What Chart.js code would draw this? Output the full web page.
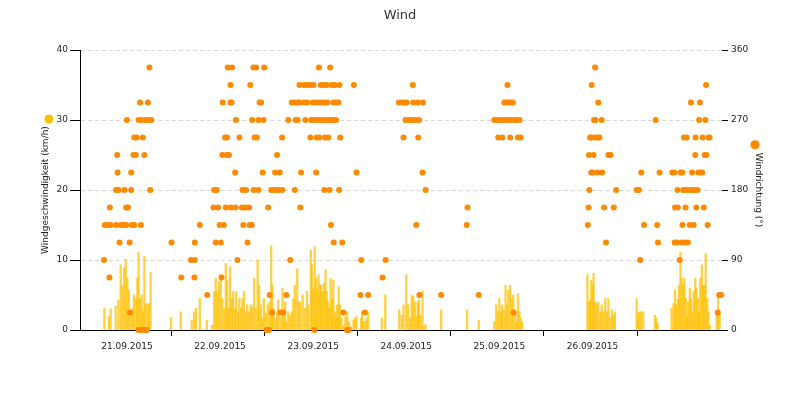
<!DOCTYPE html>
<html>
<head>
<meta charset="utf-8">
<style>html,body{margin:0;padding:0;background:#fff;}canvas{display:block;}</style>
<script src="https://cdn.jsdelivr.net/npm/chart.js@4.4.1/dist/chart.umd.min.js"></script>
</head>
<body>
<canvas id="c" width="800" height="400"></canvas>
<script>
// ---- data (hours since 21.09.2015 00:00) ----
const dayLabels = ['21.09.2015','22.09.2015','23.09.2015','24.09.2015','25.09.2015','26.09.2015'];
const xTickHours = [12,24,36,48,60,72,84,96,108,120,132,144];

const speedHours = [6.7,7.9,8.3,9.6,10.3,10.9,11.3,11.8,12.2,12.6,13.0,13.5,13.9,14.3,14.8,15.2,15.5,15.9,16.3,16.6,17.0,17.3,17.8,18.2,18.6,
23.9,26.4,29.2,29.8,30.3,31.3,33.1,34.4,35.0,35.4,35.8,36.2,36.7,37.1,37.6,38.0,38.4,38.7,39.1,39.5,39.9,40.4,40.7,41.1,41.5,41.9,42.3,42.7,43.1,43.5,44.0,44.4,44.8,45.3,45.7,46.2,46.6,47.0,47.4,47.8,
48.3,48.8,49.3,49.7,50.0,50.3,50.8,51.2,51.5,52.1,52.6,52.9,53.3,53.6,54.1,54.6,55.0,55.4,55.8,56.4,56.8,57.2,57.8,58.4,58.9,59.3,59.9,60.2,60.6,60.9,61.3,61.6,61.9,62.3,62.6,63.0,63.3,63.7,64.0,64.3,64.7,65.0,65.4,65.7,66.1,66.4,66.7,67.1,67.4,67.8,68.3,68.8,69.3,69.7,70.2,70.9,71.3,71.7,
72.9,73.1,73.4,73.9,74.3,74.7,78.2,79.1,82.7,83.3,83.8,84.5,85.0,85.5,85.9,86.3,86.8,87.2,87.5,87.8,88.2,88.7,89.1,89.5,93.5,100.2,103.2,
107.2,107.7,108.1,108.5,108.9,109.2,109.6,110.1,110.4,110.8,111.3,111.7,112.1,112.6,113.0,113.3,113.7,114.0,114.4,
131.2,131.6,131.9,132.2,132.6,132.8,133.2,133.6,134.0,134.5,134.9,135.3,135.8,136.2,136.6,137.0,137.5,137.9,138.3,
143.9,144.2,144.6,145.0,145.6,148.6,149.0,149.3,152.9,153.4,153.8,154.1,154.5,154.8,155.2,155.5,155.9,156.2,156.6,156.9,157.2,157.6,157.9,158.3,158.6,159.0,159.3,159.7,160.0,160.3,160.7,161.0,161.4,161.7,162.1,162.4,162.8,164.5,164.9,165.3];
const speedKmh = [3.1,1.9,3.0,3.4,4.3,9.3,6.4,8.9,10.1,7.4,5.7,2.6,3.1,5.0,4.5,7.4,11.1,4.5,5.0,2.6,10.5,3.8,3.6,3.8,8.2,
1.8,2.6,1.4,2.6,3.1,4.5,1.4,0.7,5.5,7.4,5.5,6.9,7.9,4.5,3.1,9.5,7.1,3.1,9.0,4.5,5.5,3.1,5.5,2.6,4.5,3.1,4.5,5.5,2.6,3.6,2.6,3.6,3.3,7.4,3.1,10.0,6.4,3.6,1.7,4.5,
2.4,3.6,4.0,12.0,6.4,3.1,1.7,2.6,4.3,1.9,6.0,2.6,4.0,1.2,2.6,2.1,2.6,4.5,6.4,8.7,4.0,4.0,5.0,3.1,5.5,3.6,11.4,9.3,6.0,11.9,7.4,5.7,7.9,6.4,6.4,5.5,6.7,8.6,5.5,4.0,3.1,7.4,4.5,7.1,2.6,1.9,3.6,6.2,3.6,1.7,0.7,1.9,2.6,1.2,0.5,1.4,1.7,1.9,
1.7,2.6,1.2,1.2,1.7,2.6,1.7,5.0,2.9,2.1,3.6,7.9,3.6,1.7,5.0,4.8,4.0,1.9,4.0,4.3,2.1,5.6,0.5,0.8,2.9,2.9,1.4,
1.2,3.6,2.6,4.5,2.6,3.6,2.9,6.4,3.6,5.7,6.4,4.5,5.0,2.6,1.2,5.2,2.6,1.7,1.2,
7.9,4.0,4.3,7.1,6.4,8.1,4.0,3.8,4.0,2.6,3.6,2.6,4.5,2.6,4.5,1.7,2.9,2.1,2.6,
4.5,2.4,2.6,2.6,2.6,2.1,1.7,1.0,3.1,3.8,5.7,3.6,4.3,6.4,11.1,7.4,6.4,7.4,4.5,1.7,4.0,6.0,4.5,2.6,5.5,7.4,6.0,4.5,2.6,7.4,9.3,6.4,6.4,10.9,4.5,2.6,0.7,2.6,4.8,2.6];

const dirHours = [6.6,6.8,7.5,8.0,8.1,8.3,9.7,9.7,10.0,10.1,10.4,10.6,10.9,11.6,11.9,12.3,12.3,12.5,12.8,13.2,13.3,13.6,13.6,13.7,14.2,14.4,14.4,14.8,15.0,15.5,15.5,15.9,16.1,16.3,16.3,16.6,17.0,17.0,17.2,17.6,17.9,18.0,18.3,18.5,18.8,24.0,26.5,29.0,29.9,30.0,30.0,
31.3,33.2,34.8,35.0,35.4,35.7,36.0,36.4,36.7,36.9,37.1,37.2,37.5,37.8,38.0,38.2,38.3,38.5,38.8,39.2,39.2,39.3,39.5,39.6,40.4,40.5,40.6,41.0,41.5,42.1,42.3,42.5,43.0,43.2,43.6,44.0,44.1,44.3,44.7,44.8,45.1,45.2,45.4,45.8,46.0,46.4,46.4,46.7,47.1,47.5,47.7,47.9,48.5,48.9,49.1,49.3,49.7,49.9,50.3,50.7,51.0,51.2,51.7,51.9,52.1,52.5,52.6,52.8,53.6,54.1,54.6,55.0,55.7,55.8,56.0,56.4,56.5,57.0,57.0,57.2,57.4,
58.2,58.2,58.5,58.9,58.9,59.7,59.8,60.0,60.4,60.6,60.7,60.8,61.1,61.3,61.4,61.4,61.9,62.0,62.1,62.1,62.5,62.7,62.9,63.3,63.4,63.6,63.6,63.7,64.0,64.2,64.4,64.4,64.7,64.9,65.1,65.1,65.3,65.7,65.7,65.8,66.1,66.4,66.4,67.0,67.2,67.3,67.5,68.0,68.3,69.2,69.6,71.0,71.7,72.7,72.9,73.8,74.7,78.4,79.2,82.6,83.3,83.8,84.0,84.3,84.6,
85.1,85.7,86.2,86.3,86.4,87.0,87.1,87.5,87.6,87.8,87.9,88.7,88.8,89.5,93.5,100.1,100.3,103.2,107.2,108.0,108.2,108.7,109.3,109.4,109.8,110.2,110.5,110.6,111.0,111.0,111.3,111.5,111.5,
112.0,112.2,112.4,113.0,113.3,113.7,114.0,131.3,131.5,131.6,131.7,131.9,132.2,132.3,132.3,132.6,132.8,132.9,133.2,133.3,133.4,133.8,133.8,134.0,134.3,134.9,135.0,135.5,136.0,136.6,137.2,138.0,138.6,
143.9,144.5,144.8,145.1,145.8,148.8,149.2,149.4,149.8,153.1,153.6,153.7,153.8,154.3,154.4,154.5,155.0,155.2,155.5,155.7,155.7,155.9,156.1,156.3,156.5,156.6,156.8,157.1,157.3,157.6,157.9,158.0,158.2,158.6,158.7,159.0,159.1,159.3,159.6,159.8,160.0,160.2,160.3,160.8,160.9,161.2,161.4,161.6,161.8,161.9,162.2,162.4,162.7,164.8,165.2,165.7];
const dirDegrees = [90,135,135,67.5,157.5,135,180,135,225,202.5,180,112.5,135,135,180,157.5,135,270,157.5,112.5,22.5,202.5,180,135,225,247.5,135,225,247.5,270,0,292.5,135,270,0,247.5,225,0,270,0,292.5,270,337.5,180,270,112.5,67.5,90,67.5,112.5,90,
135,45,157.5,180,112.5,180,157.5,135,112.5,67.5,225,292.5,135,247.5,157.5,225,247.5,337.5,225,315,292.5,157.5,292.5,337.5,202.5,157.5,270,90,247.5,157.5,180,135,157.5,180,112.5,157.5,135,315,135,270,337.5,180,247.5,337.5,247.5,270,180,292.5,292.5,202.5,270,337.5,0,157.5,0,45,180,22.5,180,202.5,180,225,180,202.5,22.5,247.5,180,22.5,45,270,90,292.5,292.5,180,270,292.5,270,315,292.5,157.5,202.5,
315,292.5,270,315,292.5,315,247.5,270,292.5,315,270,0,292.5,202.5,270,247.5,292.5,337.5,270,247.5,315,292.5,270,315,180,292.5,247.5,270,315,292.5,270,247.5,180,337.5,270,135,315,292.5,270,112.5,315,292.5,270,292.5,180,315,247.5,112.5,22.5,0,0,315,202.5,45,90,22.5,45,67.5,90,292.5,292.5,247.5,292.5,270,292.5,
270,270,315,292.5,270,270,135,292.5,247.5,270,45,202.5,292.5,180,45,135,157.5,45,270,270,247.5,270,247.5,270,292.5,270,292.5,315,292.5,270,247.5,292.5,270,
292.5,22.5,270,270,247.5,270,247.5,135,157.5,225,180,247.5,202.5,315,247.5,202.5,225,270,337.5,270,247.5,247.5,202.5,292.5,247.5,270,202.5,157.5,112.5,225,225,157.5,180,
180,180,90,202.5,135,270,135,112.5,202.5,202.5,202.5,112.5,157.5,112.5,180,157.5,90,202.5,112.5,202.5,135,180,247.5,112.5,157.5,180,247.5,112.5,180,135,292.5,180,202.5,135,180,225,247.5,157.5,180,202.5,270,292.5,202.5,202.5,247.5,157.5,225,270,315,225,135,247.5,247.5,22.5,45,45];

const speedColor = '#FFC400';
const dirColor = '#FF8A00';

const axisMarkers = {
  id: 'axisMarkers',
  afterDraw(chart) {
    const ctx = chart.ctx;
    const yL = chart.scales.y, yR = chart.scales.y2;
    const cy = (chart.chartArea.top + chart.chartArea.bottom) / 2;
    ctx.save();
    ctx.font = '9px "DejaVu Sans"';
    const wL = ctx.measureText(yL.options.title.text).width;
    const wR = ctx.measureText(yR.options.title.text).width;
    ctx.fillStyle = speedColor;
    ctx.beginPath(); ctx.arc(yL.left + 49, cy - wL / 2 - 7, 4.6, 0, Math.PI * 2); ctx.fill();
    ctx.fillStyle = dirColor;
    ctx.beginPath(); ctx.arc(yR.right - 45, cy - wR / 2 - 8, 4.6, 0, Math.PI * 2); ctx.fill();
    ctx.restore();
  }
};

Chart.defaults.font.family = '"DejaVu Sans", sans-serif';
Chart.defaults.font.size = 9;
Chart.defaults.color = '#222';

new Chart(document.getElementById('c'), {
  type: 'scatter',
  data: {
    datasets: [
      {
        type: 'scatter',
        label: 'Windrichtung',
        data: dirHours.map((h, i) => ({x: h, y: dirDegrees[i]})),
        yAxisID: 'y2',
        pointRadius: 3,
        pointBackgroundColor: dirColor,
        pointBorderWidth: 0,
        clip: false,
        order: 1
      },
      {
        type: 'bar',
        label: 'Windgeschwindigkeit',
        data: speedHours.map((h, i) => ({x: h, y: speedKmh[i]})),
        yAxisID: 'y',
        backgroundColor: 'rgba(255,192,0,0.75)',
        borderWidth: 0,
        barThickness: 1.6,
        order: 2
      }
    ]
  },
  options: {
    responsive: false,
    animation: false,
    layout: {padding: 0},
    plugins: {
      legend: {display: false},
      tooltip: {enabled: false},
      title: {
        display: true, text: 'Wind', color: '#333',
        font: {size: 13, weight: 'normal'},
        padding: {top: 8, bottom: 26.4}
      }
    },
    scales: {
      x: {
        type: 'linear', min: 0.41, max: 165.9, offset: false,
        afterFit: s => { s.height = 70; },
        afterBuildTicks: s => { s.ticks = xTickHours.map(v => ({value: v})); },
        ticks: {
          autoSkip: false, maxRotation: 0, padding: 5, labelOffset: 2,
          callback: v => { const i = (v - 12) / 24; return Number.isInteger(i) ? dayLabels[i] : ''; }
        },
        grid: {
          drawOnChartArea: false, offset: false, tickLength: 6,
          tickColor: c => (c.tick && c.tick.value % 24 === 0) ? '#000' : 'rgba(0,0,0,0)'
        },
        border: {display: true, color: '#000', width: 1}
      },
      y: {
        position: 'left', min: 0, max: 40,
        afterFit: s => { s.width = 80; },
        ticks: {stepSize: 10, padding: 2},
        grid: {color: '#d8d8d8', tickColor: '#000', tickLength: 10},
        border: {display: true, color: '#000', width: 1, dash: [4, 3]},
        title: {display: true, text: 'Windgeschwindigkeit (km/h)', color: '#222', font: {size: 9}, padding: {top: 40.6, bottom: 0}}
      },
      y2: {
        position: 'right', min: 0, max: 360,
        afterFit: s => { s.width = 78; },
        ticks: {stepSize: 90, padding: 3},
        grid: {drawOnChartArea: false, tickColor: '#000', tickLength: 6},
        border: {display: false},
        title: {display: true, text: 'Windrichtung (°)', color: '#222', font: {size: 9}, padding: {top: 36.6, bottom: 0}}
      }
    }
  },
  plugins: [axisMarkers]
});
</script>
</body>
</html>
